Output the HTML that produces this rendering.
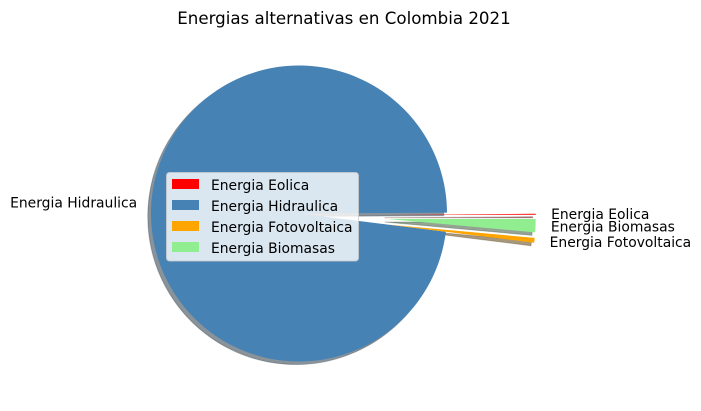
<!DOCTYPE html>
<html>
<head>
<meta charset="utf-8">
<title>Energias alternativas en Colombia 2021</title>
<style>
html,body{margin:0;padding:0;background:#fff;width:701px;height:411px;overflow:hidden}
svg{display:block;font-family:"DejaVu Sans","Liberation Sans",sans-serif;fill:#000}
</style>
</head>
<body>
<svg id="chart" width="701" height="411" viewBox="0 0 701 411" xmlns="http://www.w3.org/2000/svg">
<text x="344" y="24" font-size="16.67" text-anchor="middle">Energias alternativas en Colombia 2021</text>
<g id="shadows"></g>
<g id="slices"></g>
<g id="labels"></g>
<g id="legend"></g>
</svg>
<script>
const categories = ["Energia Eolica", "Energia Hidraulica", "Energia Fotovoltaica", "Energia Biomasas"];
const values = [0.1, 97.93, 0.53, 1.44];
const explodeFactors = [0.6, 0, 0.6, 0.6];
const colors = ["#ff0000", "#4682b4", "#ffa500", "#90ee90"];

const NS = "http://www.w3.org/2000/svg";
const cx = 299, cy = 213.5, R = 148, shadowDx = -3.2, shadowDy = 3, explodedDy = 1.5;
const total = values.reduce((a, b) => a + b, 0);
const angleOf = v => v / total * 2 * Math.PI;
const px = (x0, a, r) => x0 + r * Math.cos(a);
const py = (y0, a, r) => y0 - r * Math.sin(a);

function wedgePath(x0, y0, a0, a1) {
  const large = (a1 - a0) > Math.PI ? 1 : 0;
  return "M" + x0 + " " + y0 +
    "L" + px(x0, a0, R) + " " + py(y0, a0, R) +
    "A" + R + " " + R + " 0 " + large + " 0 " + px(x0, a1, R) + " " + py(y0, a1, R) + "Z";
}
function shade(hex) {
  const n = parseInt(hex.slice(1), 16);
  const c = [(n >> 16) & 255, (n >> 8) & 255, n & 255].map(v => Math.round(v * 0.3));
  return "rgb(" + c.join(",") + ")";
}

const shadowsG = document.getElementById("shadows");
const slicesG = document.getElementById("slices");
const labelsG = document.getElementById("labels");
const legendG = document.getElementById("legend");

let start = 0;
categories.forEach((name, i) => {
  const sweep = angleOf(values[i]);
  const end = start + sweep;
  const mid = start + sweep / 2;
  const off = explodeFactors[i] * R;
  const x0 = px(cx, mid, off);
  const y0 = py(cy, mid, off) + (off > 0 ? explodedDy : 0);

  const sh = document.createElementNS(NS, "path");
  sh.setAttribute("d", wedgePath(x0 + shadowDx, y0 + shadowDy, start, end));
  sh.setAttribute("fill", shade(colors[i]));
  sh.setAttribute("fill-opacity", "0.5");
  sh.setAttribute("stroke", shade(colors[i]));
  sh.setAttribute("stroke-opacity", "0.28");
  sh.setAttribute("stroke-width", "1");
  
  
  shadowsG.appendChild(sh);

  const w = document.createElementNS(NS, "path");
  w.setAttribute("d", wedgePath(x0, y0, start, end));
  w.setAttribute("fill", colors[i]);
  
  
  slicesG.appendChild(w);

  const t = document.createElementNS(NS, "text");
  const rightSide = Math.cos(mid) >= 0;
  const lx = px(x0, mid, R * 1.1);
  const ly = py(y0, mid, R * 1.1);
  t.setAttribute("x", lx + (rightSide ? 0.5 : 0.7));
  t.setAttribute("y", ly + (rightSide ? 5 : 3.7));
  t.setAttribute("font-size", "13.89");
  t.setAttribute("text-anchor", rightSide ? "start" : "end");
  t.textContent = name;
  
  
  labelsG.appendChild(t);

  start = end;
});

const box = document.createElementNS(NS, "rect");
box.setAttribute("x", "166.5");
box.setAttribute("y", "172.5");
box.setAttribute("width", "192");
box.setAttribute("height", "88.5");
box.setAttribute("rx", "3");
box.setAttribute("fill", "#fff");
box.setAttribute("fill-opacity", "0.8");
box.setAttribute("stroke", "#ccc");
box.setAttribute("stroke-opacity", "0.8");


legendG.appendChild(box);

categories.forEach((name, i) => {
  const y = 179 + i * 21;
  const s = document.createElementNS(NS, "rect");
  s.setAttribute("x", "172");
  s.setAttribute("y", y);
  s.setAttribute("width", "27");
  s.setAttribute("height", "10");
  s.setAttribute("fill", colors[i]);
  
  
  legendG.appendChild(s);

  const t = document.createElementNS(NS, "text");
  t.setAttribute("x", "211");
  t.setAttribute("y", y + 11);
  t.setAttribute("font-size", "13.89");
  t.textContent = name;
  
  
  legendG.appendChild(t);
});
</script>
</body>
</html>
